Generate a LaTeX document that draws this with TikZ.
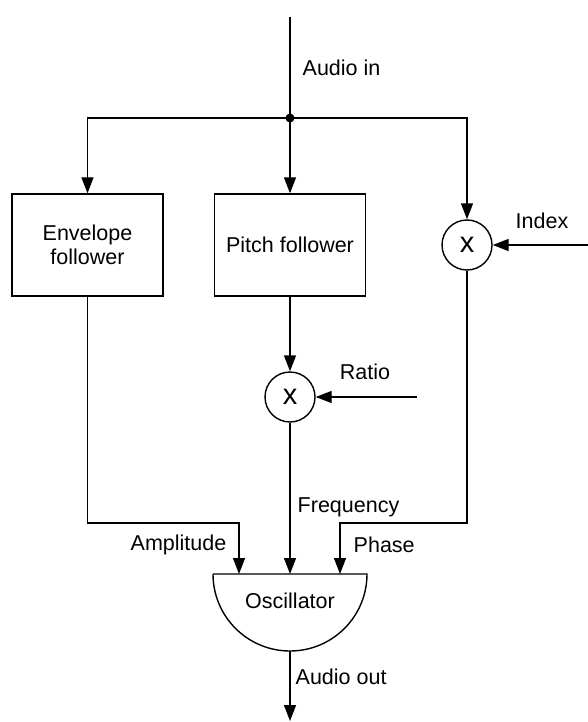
\documentclass[tikz,border=0pt]{standalone}
\usepackage{fontspec}
\setmainfont{Liberation Sans}
\usetikzlibrary{arrows.meta}
\begin{document}
\begin{tikzpicture}[x=1pt,y=1pt,line width=1.4pt,
  >={Triangle[length=16pt,width=12pt]},
  every node/.style={font=\fontsize{21.5}{24}\selectfont},
  blockbox/.style={draw,minimum width=151pt,minimum height=102pt,inner sep=0pt,align=center},
  mult/.style={draw,circle,minimum size=50pt,inner sep=0pt,font=\fontsize{29}{30}\selectfont},
  lbl/.style={inner sep=0pt}]
\useasboundingbox (0,0) rectangle (588,-722);
% blocks
\node[blockbox] (env) at (87.5,-245) {Envelope\\follower};
\node[blockbox] (pitch) at (290,-245) {Pitch follower};
\node[mult] (m1) at (467,-245) {x};
\node[mult] (m2) at (290,-397) {x};
% oscillator
\coordinate (oscL) at (213,-574);
\coordinate (oscR) at (367,-574);
\coordinate (oscB) at (290,-651);
\draw (oscL) -- (oscR) arc[start angle=0,end angle=-180,radius=77pt];
\node[lbl] (osc) at (290,-601) {Oscillator};
\coordinate (oscA) at (239,-574);
\coordinate (oscF) at (290,-574);
\coordinate (oscP) at (340,-574);
% input
\coordinate (top) at (290,-17);
\coordinate (j) at (290,-118);
\draw (top) -- (j);
\fill (j) circle (4.5pt);
\draw[->] (j) -| (env.north);
\draw[->] (j) -- (pitch.north);
\draw[->] (j) -| (m1.north);
\draw[->] (pitch.south) -- (m2.north);
\coordinate (ratioin) at (417,-397);
\draw[->] (ratioin) -- (m2.east);
\coordinate (indexin) at (588,-245);
\draw[->] (indexin) -- (m1.east);
\coordinate (ab) at (239,-523);
\coordinate (pb) at (340,-523);
\draw[->] (env.south) |- (ab) -- (oscA);
\draw[->] (m2.south) -- (oscF);
\draw[->] (m1.south) |- (pb) -- (oscP);
\coordinate (out) at (290,-721);
\draw[->] (oscB) -- (out);
% labels
\node[lbl,anchor=west] (lin) at (302,-68) {Audio in};
\node[lbl] (lidx) at (542,-221) {Index};
\node[lbl] (lrat) at (365,-372) {Ratio};
\node[lbl,anchor=west] (lfreq) at (297,-507) {Frequency};
\node[lbl,anchor=east] (lamp) at (227,-545) {Amplitude};
\node[lbl,anchor=west] (lph) at (353,-545) {Phase};
\node[lbl,anchor=west] (lout) at (295,-677) {Audio out};
\end{tikzpicture}
\end{document}
